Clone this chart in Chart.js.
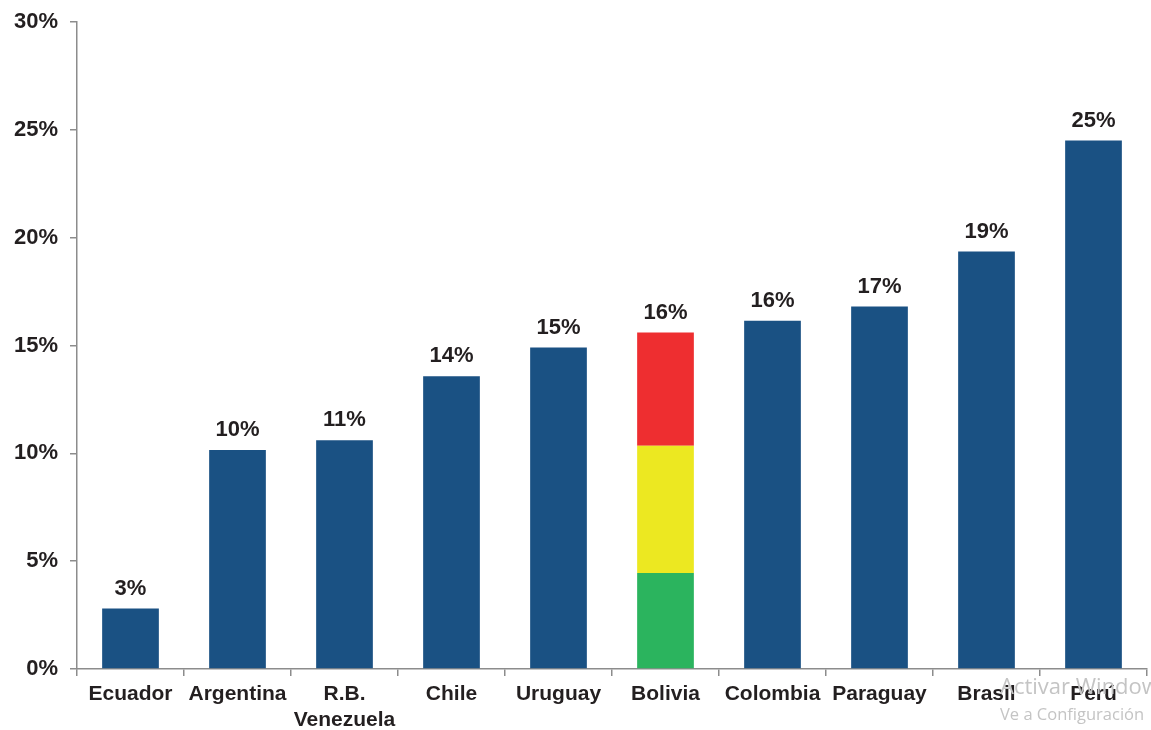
<!DOCTYPE html>
<html>
<head>
<meta charset="utf-8">
<script src="https://cdn.jsdelivr.net/npm/chart.js@4"></script>
<style>
  html, body { margin: 0; padding: 0; background: #fff; }
  .wrap { position: relative; width: 1151px; height: 730px; overflow: hidden; }
  .wm { position: absolute; color: #c4c4c4; font-family: "Open Sans", "Noto Sans", sans-serif; white-space: nowrap; }
</style>
</head>
<body>
<div class="wrap">
  <canvas id="chart" width="1151" height="730"></canvas>
  <div class="wm" style="left:1000px; top:670px; font-size:22px;">Activar Windows</div>
  <div class="wm" style="left:1000px; top:702px; font-size:16.5px;">Ve a Configuración</div>
</div>
<script>
// countries along the x axis
const categories = ['Ecuador', 'Argentina', ['R.B.', 'Venezuela'], 'Chile', 'Uruguay',
  'Bolivia', 'Colombia', 'Paraguay', 'Brasil', 'Perú'];
// share in %, Bolivia drawn separately as its flag colours
const mainValues = [2.8, 10.15, 10.6, 13.57, 14.9, null, 16.15, 16.8, 19.35, 24.5];
const boliviaGreen = [null, null, null, null, null, 4.45, null, null, null, null];
const boliviaYellow = [null, null, null, null, null, 5.9, null, null, null, null];
const boliviaRed = [null, null, null, null, null, 5.25, null, null, null, null];
const yTicks = [0, 5, 10, 15, 20, 25, 30];

const textColor = '#231f20';
const axisColor = '#8c8c8c';
const fontFamily = '"Liberation Sans", Arial, sans-serif';

// value labels over each stack
const topLabels = {
  id: 'topLabels',
  afterDatasetsDraw(chart) {
    const ctx = chart.ctx;
    const y = chart.scales.y;
    ctx.save();
    ctx.font = 'bold 22px ' + fontFamily;
    ctx.fillStyle = textColor;
    ctx.textAlign = 'center';
    ctx.textBaseline = 'bottom';
    categories.forEach((c, i) => {
      let total = 0;
      chart.data.datasets.forEach(ds => { total += ds.data[i] || 0; });
      const x = chart.getDatasetMeta(0).data[i].x;
      ctx.fillText(Math.round(total) + '%', x, y.getPixelForValue(total) - 9);
    });
    ctx.restore();
  }
};

new Chart(document.getElementById('chart'), {
  type: 'bar',
  data: {
    labels: categories,
    datasets: [
      { data: mainValues, backgroundColor: '#1a5183' },
      { data: boliviaGreen, backgroundColor: '#2bb45e' },
      { data: boliviaYellow, backgroundColor: '#ece821' },
      { data: boliviaRed, backgroundColor: '#ee2e30' }
    ]
  },
  options: {
    responsive: false,
    animation: false,
    layout: { padding: { top: 19, right: 4, left: 0, bottom: 0 } },
    datasets: { bar: { barPercentage: 0.53, categoryPercentage: 1, skipNull: true } },
    plugins: { legend: { display: false }, tooltip: { enabled: false } },
    scales: {
      x: {
        stacked: true,
        afterFit(s) { s.height = 61; },
        border: { color: axisColor, width: 1.5 },
        grid: { drawOnChartArea: false, tickLength: 7, color: axisColor, lineWidth: 1.5 },
        ticks: {
          color: textColor,
          padding: 6,
          maxRotation: 0,
          font: { family: fontFamily, size: 21, weight: 'bold', lineHeight: 1.2 }
        }
      },
      y: {
        stacked: true,
        min: 0,
        max: 30,
        afterFit(s) { s.width = 77; },
        afterBuildTicks(s) { s.ticks = yTicks.map(v => ({ value: v })); },
        border: { color: axisColor, width: 1.5 },
        grid: { drawOnChartArea: false, tickLength: 7, color: axisColor, lineWidth: 1.5 },
        ticks: {
          color: textColor,
          padding: 12,
          callback: v => v + '%',
          font: { family: fontFamily, size: 22, weight: 'bold', lineHeight: 0.9 }
        }
      }
    }
  },
  plugins: [topLabels]
});
</script>
</body>
</html>
